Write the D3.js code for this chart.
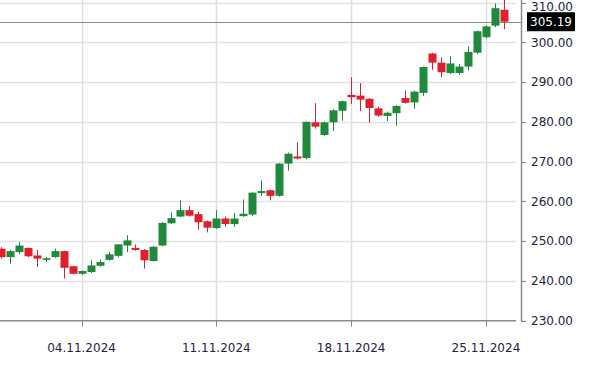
<!DOCTYPE html>
<html><head><meta charset="utf-8">
<script src="https://cdn.jsdelivr.net/npm/d3@7"></script>
<style>html,body{margin:0;padding:0;background:#fff;}svg{display:block;}</style>
</head><body>
<svg id="chart" width="603" height="382"></svg>
<script>
const opens  = [248.1,246.0,247.25,248.3,246.4,245.3,246.0,247.5,243.7,241.8,242.25,243.8,245.3,246.3,248.9,248.3,247.8,245.0,248.9,254.5,256.2,257.8,256.8,255.0,253.3,255.7,254.3,256.3,256.7,262.1,262.8,261.4,269.5,271.3,270.9,279.9,276.7,279.9,282.8,286.8,286.6,285.8,283.4,281.5,282.2,286.0,284.9,287.3,297.2,294.9,292.3,292.3,293.9,297.4,301.3,304.2,308.2];
const highs  = [248.5,247.8,249.75,248.4,247.8,246.0,248.1,247.6,243.8,242.6,245.2,245.4,247.25,249.3,251.5,249.2,248.0,248.8,254.8,257.25,260.3,258.9,257.4,255.2,257.8,256.2,257.1,260.5,262.3,265.3,263.0,269.6,272.3,274.9,280.1,284.7,280.1,283.2,285.4,291.25,289.75,286.0,283.9,282.6,284.2,287.9,287.9,293.9,297.4,296.2,296.6,294.5,299.0,303.0,304.3,309.8,310.7];
const lows   = [245.6,244.3,246.8,246.0,243.5,244.75,245.8,240.6,241.7,241.5,242.0,243.6,245.1,245.9,247.25,247.6,243.1,244.9,248.7,254.3,256.0,256.2,252.9,252.2,253.1,253.6,253.6,256.1,256.3,261.4,260.3,261.2,267.7,270.6,270.6,278.3,276.5,277.7,280.3,284.5,282.7,279.8,281.3,280.2,279.0,284.6,283.3,286.5,293.1,291.2,292.0,291.9,292.9,297.0,301.0,303.8,303.3];
const closes = [246.0,247.5,248.9,246.2,245.6,245.7,247.5,243.3,241.8,242.5,243.9,244.75,246.7,249.2,250.2,247.8,245.2,248.6,254.6,255.8,257.8,256.4,254.75,253.4,255.7,254.3,255.7,256.9,262.2,262.6,261.4,269.5,272.0,270.8,280.0,278.8,279.9,282.9,285.2,286.2,285.6,283.5,281.6,282.3,284.0,284.8,287.6,293.8,294.9,292.5,294.7,293.9,297.6,302.8,304.0,308.6,305.19];
const dateLabels = ["04.11.2024","11.11.2024","18.11.2024","25.11.2024"];
const dateIndex  = [9,24,39,54];
const priceTicks = [230,240,250,260,270,280,290,300,310];
const lastPrice = 305.19;

const svg = d3.select("#chart");
const x = d3.scaleLinear().domain([0, 56]).range([0.7, 503.9]);
const y = d3.scaleLinear().domain([230, 310]).range([320.7, 2.6]);
const plotRight = 516, axisX = 521;
const font = "'DejaVu Sans', Verdana, sans-serif";

// grid
svg.append("g").selectAll("line").data(priceTicks.filter(d => d > 230)).join("line")
  .attr("x1", 0).attr("x2", plotRight)
  .attr("y1", d => Math.round(y(d)) + 0.5).attr("y2", d => Math.round(y(d)) + 0.5)
  .attr("stroke", "#e2e2e2").attr("stroke-width", 1.5);
svg.append("g").selectAll("line").data(dateIndex).join("line")
  .attr("x1", d => Math.round(x(d)) + 0.5).attr("x2", d => Math.round(x(d)) + 0.5)
  .attr("y1", 0).attr("y2", y(230))
  .attr("stroke", "#dddddd").attr("stroke-width", 1.5);

// last price line
svg.append("line").attr("x1", 0).attr("x2", axisX)
  .attr("y1", Math.round(y(lastPrice)) + 0.5).attr("y2", Math.round(y(lastPrice)) + 0.5)
  .attr("stroke", "#8a8a8a").attr("stroke-width", 1);

// candles
const data = opens.map((o, i) => ({i, o, h: highs[i], l: lows[i], c: closes[i]}));
const green = "#1f8a3b", red = "#e01f2d";
const bw = 8;
const cg = svg.append("g");
cg.selectAll("line").data(data).join("line")
  .attr("x1", d => Math.round(x(d.i)) + 0.5).attr("x2", d => Math.round(x(d.i)) + 0.5)
  .attr("y1", d => y(d.h)).attr("y2", d => y(d.l))
  .attr("stroke", d => d.c >= d.o ? green : red).attr("stroke-width", 1);
cg.selectAll("rect").data(data).join("rect")
  .attr("x", d => Math.round(x(d.i)) - bw / 2 + 0.5)
  .attr("width", bw)
  .attr("y", d => y(Math.max(d.o, d.c)))
  .attr("height", d => Math.max(1.5, Math.abs(y(d.o) - y(d.c))))
  .attr("fill", d => d.c >= d.o ? green : red);

// x axis
const xg = svg.append("g").attr("transform", `translate(0,${y(230)})`);
xg.append("line").attr("x1", 0).attr("x2", plotRight).attr("stroke", "#8a8a8a").attr("stroke-width", 1.5);
xg.selectAll("line.t").data(dateIndex).join("line").attr("class", "t")
  .attr("x1", d => Math.round(x(d)) + 0.5).attr("x2", d => Math.round(x(d)) + 0.5)
  .attr("y1", 0).attr("y2", 6).attr("stroke", "#8a8a8a");
xg.selectAll("text").data(dateIndex).join("text")
  .attr("x", d => x(d)).attr("y", 31)
  .attr("text-anchor", "middle").attr("font-family", font).attr("font-size", 12)
  .attr("fill", "#23233f").text((d, i) => dateLabels[i]);

// y axis
const yg = svg.append("g");
yg.append("line").attr("x1", axisX + 0.5).attr("x2", axisX + 0.5).attr("y1", 0).attr("y2", y(230) + 0.5)
  .attr("stroke", "#8a8a8a").attr("stroke-width", 1.5);
yg.selectAll("line.t").data(priceTicks).join("line").attr("class", "t")
  .attr("x1", axisX).attr("x2", axisX + 5)
  .attr("y1", d => Math.round(y(d)) + 0.5).attr("y2", d => Math.round(y(d)) + 0.5)
  .attr("stroke", "#8a8a8a").attr("stroke-width", 1.2);
yg.selectAll("text").data(priceTicks).join("text")
  .attr("x", 531).attr("y", d => Math.max(y(d), 7)).attr("dy", "0.36em")
  .attr("font-family", font).attr("font-size", 12)
  .attr("fill", "#23233f").text(d => d3.format(".2f")(d));

// last price label
const ly = y(lastPrice);
svg.append("rect").attr("x", 527).attr("y", ly - 9.5).attr("width", 48).attr("height", 19).attr("fill", "#000");
svg.append("text").attr("x", 530).attr("y", ly).attr("dy", "0.36em")
  .attr("font-family", font).attr("font-size", 12).attr("fill", "#fff").text(d3.format(".2f")(lastPrice));
</script>
</body></html>
